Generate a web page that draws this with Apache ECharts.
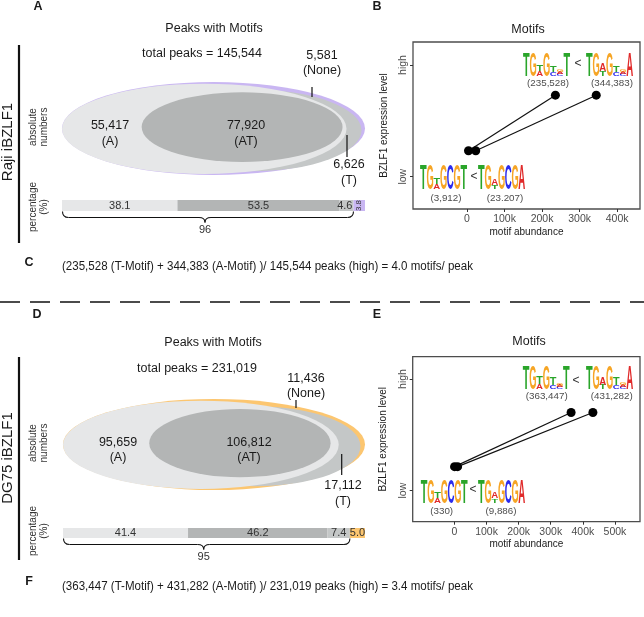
<!DOCTYPE html>
<html><head><meta charset="utf-8">
<script src="https://cdn.jsdelivr.net/npm/echarts@6/dist/echarts.min.js"></script>
<style>html,body{margin:0;padding:0;background:#fff}#c{width:644px;height:617px}</style>
</head><body><div id="c"></div>
<script>
// ---------------- data ----------------
const regionNames = ['A', 'AT', 'T', 'None'];
const rajiPct = [38.1, 53.5, 4.6, 3.8];
const dg75Pct = [41.4, 46.2, 7.4, 5.0];
const rajiCounts = [55417, 77920, 6626, 5581];
const dg75Counts = [95659, 106812, 17112, 11436];
const rajiTotal = 145544;
const dg75Total = 231019;

const rajiMotifLow = [3912, 23207];      // T-motif, A-motif
const rajiMotifHigh = [235528, 344383];
const dg75MotifLow = [330, 9886];
const dg75MotifHigh = [363447, 431282];
const rajiLevelY = [0.232, 0.73];        // low, high position of the points
const dg75LevelY = [0.215, 0.70];
const levelTicks = [0, 1];
const levelNames = ['low', 'high'];
const rajiXTicks = [0, 100000, 200000, 300000, 400000];
const dg75XTicks = [0, 100000, 200000, 300000, 400000, 500000];
const rajiCountLabels = ['(3,912)', '(23.207)', '(235,528)', '(344,383)'];
const dg75CountLabels = ['(330)', '(9,886)', '(363,447)', '(431,282)'];

// sequence logos (bottom -> top stacks, fraction of full height)
const logoLowT = [[['T',1]],[['G',1]],[['A',.2],['T',.25]],[['G',1]],[['C',1]],[['G',1]],[['T',1]]];
const logoLowA = [[['T',1]],[['G',1]],[['T',.18],['A',.27]],[['G',1]],[['C',1]],[['G',1]],[['A',1]]];
const logoHighT = [[['T',1]],[['G',1]],[['A',.22],['T',.3]],[['G',1]],[['C',.18],['T',.3]],[['C',.08],['A',.08],['G',.1]],[['T',1]]];
const logoHighA = [[['T',1]],[['G',1]],[['T',.2],['A',.32]],[['G',1]],[['C',.18],['T',.3]],[['C',.08],['A',.1],['G',.08]],[['A',1]]];

// ---------------- style ----------------
const FF = "'Liberation Sans', Arial, sans-serif";
const TXT = '#1a1a1a';
const LIGHT = '#e6e7e8', DARK = '#b3b5b5', MED = '#c4c7c7';
const PURPLE = '#c9b6f2', ORANGE = '#fcc670';
const letterColor = {T: '#2aa52a', G: '#f6a525', C: '#2b2bee', A: '#e02a2a'};
const LOGO_FONT = "bold 40px " + FF;

const cv = document.createElement('canvas').getContext('2d');
const metrics = {};
cv.font = LOGO_FONT; cv.textAlign = 'center'; cv.textBaseline = 'middle';
['T','G','C','A'].forEach(ch => {
  const m = cv.measureText(ch);
  metrics[ch] = {
    w: m.actualBoundingBoxLeft + m.actualBoundingBoxRight,
    h: m.actualBoundingBoxAscent + m.actualBoundingBoxDescent,
    dx: (m.actualBoundingBoxRight - m.actualBoundingBoxLeft) / 2,
    dy: (m.actualBoundingBoxDescent - m.actualBoundingBoxAscent) / 2
  };
});

const fmt = v => v.toLocaleString('en-US');

function T(x, y, text, size, o) {
  o = o || {};
  return {type: 'text', x, y, rotation: o.rot || 0, scaleX: o.sx || 1, silent: true, z: 10,
    style: {text, font: (o.bold ? 'bold ' : '') + size + 'px ' + FF, fill: o.fill || TXT,
      align: o.align || 'center', verticalAlign: 'middle', lineHeight: o.lh || size * 1.15}};
}
function L(x1, y1, x2, y2, w, dash) {
  return {type: 'line', silent: true, z: 10, shape: {x1, y1, x2, y2},
    style: {stroke: '#111', lineWidth: w || 1.2, lineDash: dash || null}};
}
function logoEls(x0, yb, W, H, cols) {
  const cw = W / cols.length, els = [];
  cols.forEach((stack, i) => {
    let y = yb;
    const cx = x0 + cw * (i + 0.5);
    stack.forEach(([ch, f]) => {
      const h = f * H, m = metrics[ch];
      const sx = (cw * 0.97) / m.w, sy = h / m.h;
      els.push({type: 'text', silent: true, z: 10, x: cx - sx * m.dx, y: (y - h / 2) - sy * m.dy,
        scaleX: sx, scaleY: sy,
        style: {text: ch, font: LOGO_FONT, fill: letterColor[ch], align: 'center', verticalAlign: 'middle'}});
      y -= h;
    });
  });
  return els;
}
function fitText(x, y, text, size, width) {
  cv.font = size + 'px ' + FF;
  const w = cv.measureText(text).width;
  return T(x, y, text, size, {align: 'left', sx: width / w});
}

// ---------------- Venn (custom ellipses on percentage scale) ----------------
function vennData(pct, noneColor) {
  const [a, at, t, none] = pct;
  const atLeft = a * 0.69;
  return [
    [0, 100, 0.5, 0.5, noneColor],
    [atLeft, 100 - none * 0.3, 0.48, 0.44, MED],
    [0, a + at + t * 0.5, 0.497, 0.485, LIGHT],
    [atLeft, a + at + 1, 0.515, 0.375, DARK]
  ];
}
function vennSeries(idx, pct, noneColor) {
  const d = vennData(pct, noneColor);
  return {type: 'custom', xAxisIndex: idx, yAxisIndex: idx, silent: true, animation: false, clip: false,
    data: d.map(r => r.slice(0, 4)),
    renderItem(params, api) {
      const x0 = api.value(0), x1 = api.value(1), cy = api.value(2), ry = api.value(3);
      const p0 = api.coord([x0, cy]), p1 = api.coord([x1, cy]), pt = api.coord([x0, cy + ry]);
      const rx = (p1[0] - p0[0]) / 2, ryPx = p0[1] - pt[1];
      return {type: 'circle', x: (p0[0] + p1[0]) / 2, y: p0[1], scaleX: 1, scaleY: ryPx / rx,
        shape: {cx: 0, cy: 0, r: rx}, style: {fill: d[params.dataIndex][4]}};
    }};
}

// ---------------- percentage bars ----------------
function barSeries(idx, pct, colors, stack) {
  return pct.map((v, i) => ({
    type: 'bar', name: regionNames[i], stack, xAxisIndex: idx, yAxisIndex: idx, data: [v],
    barWidth: '100%', silent: true, animation: false,
    itemStyle: {color: colors[i]},
    label: {show: true, formatter: v.toFixed(1), color: '#333', fontFamily: FF,
      fontSize: (i === 3 && v < 4) ? 8 : 11,
      position: (i === 2 && v < 6) ? 'insideRight' : 'inside', distance: 1,
      rotate: (i === 3 && v < 4) ? 90 : 0}
  }));
}
function braceSeries(idx, pct) {
  const sum = pct[0] + pct[1] + pct[2];
  return {type: 'custom', xAxisIndex: idx, yAxisIndex: idx, silent: true, animation: false, clip: false,
    data: [[sum, 0]],
    renderItem(params, api) {
      const cs = params.coordSys;
      const x0 = api.coord([0, 0])[0] + 0.5, x1 = api.coord([api.value(0), 0])[0];
      const xm = (x0 + x1) / 2 - 3;
      const y0 = cs.y + cs.height + 0.5, ym = y0 + 6, yt = y0 + 11, r = 6;
      const st = {stroke: '#111', lineWidth: 1.1, fill: null};
      return {type: 'group', children: [
        {type: 'bezierCurve', shape: {x1: x0, y1: y0, cpx1: x0, cpy1: ym, x2: x0 + r, y2: ym}, style: st},
        {type: 'line', shape: {x1: x0 + r, y1: ym, x2: xm - r, y2: ym}, style: st},
        {type: 'bezierCurve', shape: {x1: xm - r, y1: ym, cpx1: xm, cpy1: ym, x2: xm, y2: yt}, style: st},
        {type: 'bezierCurve', shape: {x1: xm, y1: yt, cpx1: xm, cpy1: ym, x2: xm + r, y2: ym}, style: st},
        {type: 'line', shape: {x1: xm + r, y1: ym, x2: x1 - r, y2: ym}, style: st},
        {type: 'bezierCurve', shape: {x1: x1 - r, y1: ym, cpx1: x1, cpy1: ym, x2: x1, y2: y0}, style: st},
        {type: 'text', x: xm, y: yt + 7, style: {text: String(Math.round(api.value(0))), font: '11px ' + FF,
          fill: '#333', align: 'center', verticalAlign: 'middle'}}
      ]};
    }};
}

// ---------------- motif scatter ----------------
function motifAxes(grid, xmin, xmax, xticks, ymin, ymax) {
  return {
    x: {type: 'value', gridIndex: grid, min: xmin, max: xmax, position: 'bottom',
      axisLine: {show: false, onZero: false}, splitLine: {show: false},
      axisTick: {show: true, length: 3, customValues: xticks, lineStyle: {color: '#333'}},
      axisLabel: {customValues: xticks, formatter: v => v === 0 ? '0' : (v / 1000) + 'k', fontSize: 10.5,
        color: '#4d4d4d', margin: 5, fontFamily: FF},
      name: 'motif abundance', nameLocation: 'middle', nameGap: 18,
      nameTextStyle: {fontSize: 10, color: TXT, fontFamily: FF}},
    y: {type: 'value', gridIndex: grid, min: ymin, max: ymax, position: 'left',
      axisLine: {show: false, onZero: false}, splitLine: {show: false},
      axisTick: {show: true, length: 3, customValues: levelTicks, lineStyle: {color: '#333'}},
      axisLabel: {customValues: levelTicks, formatter: v => levelNames[levelTicks.indexOf(v)], rotate: 90,
        fontSize: 10.5, color: '#4d4d4d', margin: 4, fontFamily: FF},
      name: 'BZLF1 expression level', nameLocation: 'middle', nameRotate: 90, nameGap: 24,
      nameTextStyle: {fontSize: 10, color: TXT, fontFamily: FF}}
  };
}
function motifLines(grid, low, high, ys) {
  return [0, 1].map(i => ({
    type: 'line', xAxisIndex: grid, yAxisIndex: grid, silent: true, animation: false,
    data: [[low[i], ys[0]], [high[i], ys[1]]], symbol: 'circle', symbolSize: 9, showSymbol: true,
    itemStyle: {color: '#000'}, lineStyle: {color: '#111', width: 1.2}
  }));
}

const axB = motifAxes(2, -144000, 461000, rajiXTicks, -0.289, 1.206);
const axE = motifAxes(5, -130000, 578000, dg75XTicks, -0.278, 1.2);
const hidX = g => ({type: 'value', gridIndex: g, min: 0, max: 100, show: false});
const hidY = g => ({type: 'value', gridIndex: g, min: 0, max: 1, show: false});
const catY = g => ({type: 'category', gridIndex: g, data: ['p'], show: false});

// ---------------- texts / decorations ----------------
const g = [];
// divider
g.push(L(0, 302, 644, 302, 1.3, [20, 10]));
// panel letters
[['A', 38, 7], ['B', 377, 7], ['C', 29, 263], ['D', 37, 315], ['E', 377, 315], ['F', 29, 582]]
  .forEach(([s, x, y]) => g.push(T(x, y, s, 12.5, {bold: true})));
// side labels
g.push(L(19, 45, 19, 243, 2.2));
g.push(L(19, 357, 19, 560, 2.2));
g.push(T(8, 142, 'Raji iBZLF1', 15, {rot: Math.PI / 2}));
g.push(T(8, 458, 'DG75 iBZLF1', 15, {rot: Math.PI / 2}));
g.push(T(38.5, 127, 'absolute\nnumbers', 10, {rot: Math.PI / 2, lh: 11, fill: '#333'}));
g.push(T(38.5, 207, 'percentage\n(%)', 10, {rot: Math.PI / 2, lh: 11, fill: '#333'}));
g.push(T(38.5, 443, 'absolute\nnumbers', 10, {rot: Math.PI / 2, lh: 11, fill: '#333'}));
g.push(T(38.5, 531, 'percentage\n(%)', 10, {rot: Math.PI / 2, lh: 11, fill: '#333'}));

// Venn labels panel A
g.push(T(214, 29, 'Peaks with Motifs', 12.5));
g.push(T(202, 54, 'total peaks = ' + fmt(rajiTotal), 12.5));
g.push(T(322, 63, fmt(rajiCounts[3]) + '\n(None)', 12.5, {lh: 15}));
g.push(L(312, 87, 312, 97, 1.2));
g.push(T(110, 134, fmt(rajiCounts[0]) + '\n(A)', 12.5, {lh: 16}));
g.push(T(246, 134, fmt(rajiCounts[1]) + '\n(AT)', 12.5, {lh: 16}));
g.push(T(349, 173, fmt(rajiCounts[2]) + '\n(T)', 12.5, {lh: 16}));
g.push(L(347, 135, 347, 157, 1.2));
// Venn labels panel D
g.push(T(213, 343, 'Peaks with Motifs', 12.5));
g.push(T(197, 369, 'total peaks = ' + fmt(dg75Total), 12.5));
g.push(T(306, 386.5, fmt(dg75Counts[3]) + '\n(None)', 12.5, {lh: 15}));
g.push(L(296, 400, 296, 408, 1.2));
g.push(T(118, 450, fmt(dg75Counts[0]) + '\n(A)', 12.5, {lh: 15}));
g.push(T(249, 450, fmt(dg75Counts[1]) + '\n(AT)', 12.5, {lh: 15}));
g.push(T(343, 494, fmt(dg75Counts[2]) + '\n(T)', 12.5, {lh: 16}));
g.push(L(341.7, 454, 341.7, 475, 1.2));

// Motif panels
g.push(T(528, 30, 'Motifs', 12.5));
g.push(T(529, 342, 'Motifs', 12.5));
// B logos
g.push(...logoEls(523, 76, 47, 23, logoHighT), T(578, 64, '<', 12, {fill: '#333'}), ...logoEls(586, 76, 47, 23, logoHighA));
g.push(...logoEls(420, 189, 47, 24, logoLowT), T(474, 177, '<', 12, {fill: '#333'}), ...logoEls(478, 189, 47, 24, logoLowA));
g.push(T(446, 198.5, rajiCountLabels[0], 9.8, {fill: '#4d4d4d'}), T(505, 198.5, rajiCountLabels[1], 9.8, {fill: '#4d4d4d'}));
g.push(T(548, 83.5, rajiCountLabels[2], 9.8, {fill: '#4d4d4d'}), T(612, 83.5, rajiCountLabels[3], 9.8, {fill: '#4d4d4d'}));
// E logos
g.push(...logoEls(522.7, 389.3, 47, 23.6, logoHighT), T(576, 381, '<', 12, {fill: '#333'}), ...logoEls(586, 389.3, 47, 23.6, logoHighA));
g.push(...logoEls(420.7, 502.7, 47, 23.7, logoLowT), T(473, 490, '<', 12, {fill: '#333'}), ...logoEls(478, 502.7, 47, 23.7, logoLowA));
g.push(T(441.7, 511.7, dg75CountLabels[0], 9.8, {fill: '#4d4d4d'}), T(501, 511.7, dg75CountLabels[1], 9.8, {fill: '#4d4d4d'}));
g.push(T(546.7, 396.7, dg75CountLabels[2], 9.8, {fill: '#4d4d4d'}), T(611.7, 396.7, dg75CountLabels[3], 9.8, {fill: '#4d4d4d'}));

// C / F formulas
const perPeak = (h, tot) => ((h[0] + h[1]) / tot).toFixed(1);
g.push(fitText(62, 267, '(' + fmt(rajiMotifHigh[0]) + ' (T-Motif) + ' + fmt(rajiMotifHigh[1]) + ' (A-Motif) )/ ' +
  fmt(rajiTotal) + ' peaks (high) = ' + perPeak(rajiMotifHigh, rajiTotal) + ' motifs/ peak', 12.5, 411));
g.push(fitText(62, 587, '(' + fmt(dg75MotifHigh[0]) + ' (T-Motif) + ' + fmt(dg75MotifHigh[1]) + ' (A-Motif) )/ ' +
  fmt(dg75Total) + ' peaks (high) = ' + perPeak(dg75MotifHigh, dg75Total) + ' motifs/ peak', 12.5, 411));

// ---------------- option ----------------
const chart = echarts.init(document.getElementById('c'), null, {renderer: 'canvas'});
chart.setOption({
  animation: false,
  backgroundColor: '#fff',
  textStyle: {fontFamily: FF},
  grid: [
    {left: 62, top: 82, width: 303, height: 93},
    {left: 62, top: 200, width: 303, height: 11},
    {left: 413, top: 42, width: 227, height: 167, show: true, borderColor: '#4d4d4d', borderWidth: 1.3},
    {left: 63, top: 399, width: 302, height: 91},
    {left: 63, top: 528, width: 302, height: 10},
    {left: 412.7, top: 356.7, width: 227.3, height: 165, show: true, borderColor: '#4d4d4d', borderWidth: 1.3}
  ],
  xAxis: [hidX(0), hidX(1), axB.x, hidX(3), hidX(4), axE.x],
  yAxis: [hidY(0), catY(1), axB.y, hidY(3), catY(4), axE.y],
  series: [
    vennSeries(0, rajiPct, PURPLE),
    ...barSeries(1, rajiPct, [LIGHT, DARK, MED, PURPLE], 'sA'),
    braceSeries(1, rajiPct),
    ...motifLines(2, rajiMotifLow, rajiMotifHigh, rajiLevelY),
    vennSeries(3, dg75Pct, ORANGE),
    ...barSeries(4, dg75Pct, [LIGHT, DARK, MED, ORANGE], 'sD'),
    braceSeries(4, dg75Pct),
    ...motifLines(5, dg75MotifLow, dg75MotifHigh, dg75LevelY)
  ],
  graphic: g
});
</script>
</body></html>
